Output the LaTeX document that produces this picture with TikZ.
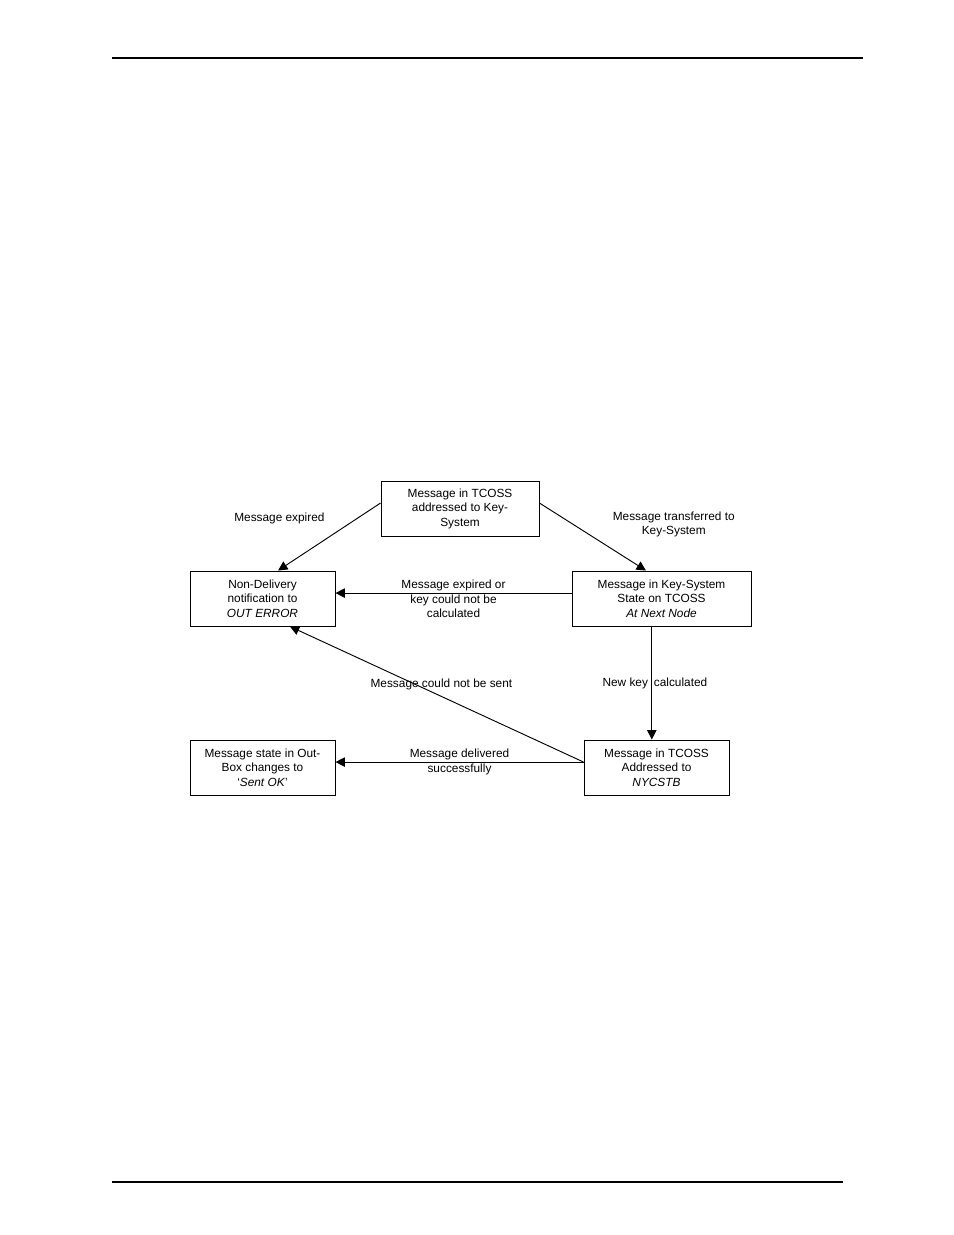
\documentclass[tikz,border=0pt]{standalone}
\usepackage{fontspec}
\setmainfont{Liberation Sans}
\usetikzlibrary{arrows.meta,positioning,calc}
\tikzset{
  state/.style={
    rectangle, draw=black, line width=0.6pt, fill=white,
    minimum height=35.3pt, inner sep=2pt,
    align=center, font=\fontsize{7.6}{9.3}\selectfont
  },
  lbl/.style={align=center, inner sep=0pt, font=\fontsize{7.6}{9.3}\selectfont},
  flow/.style={-{Triangle[length=6pt,width=6pt]}, line width=0.6pt, draw=black},
  rule/.style={line width=1pt, draw=black}
}
\begin{document}
\begin{tikzpicture}[x=0.6415pt,y=-0.6415pt]
  \useasboundingbox (0,0) rectangle (954,1235);

  % page rules
  \draw[rule] (112,58) -- (863,58);
  \draw[rule] (112,1182) -- (843,1182);

  % states
  \node[state, minimum width=101.4pt] (intcoss) at (460,508.5) {%
    Message in TCOSS\\addressed to Key-\\System};
  \node[state, minimum width=93pt] (nondel) at (262.5,598.5) {%
    Non-Delivery\\notification to\\\textit{OUT ERROR}};
  \node[state, minimum width=114.8pt] (keysys) at (661.5,598.5) {%
    Message in Key-System\\State on TCOSS\\\textit{At Next Node}};
  \node[state, minimum width=93pt] (nycstb) at (656.5,767.5) {%
    Message in TCOSS\\Addressed to\\\textit{NYCSTB}};
  \node[state, minimum width=93pt] (sentok) at (262.5,767.5) {%
    Message state in Out-\\Box changes to\\`\textit{Sent OK}'};

  % transitions
  \draw[flow] ([yshift=3.5pt]intcoss.west) -- ([xshift=10pt]nondel.north)
    node[lbl, midway, xshift=-32pt, yshift=12pt] {Message expired};
  \draw[flow] ([yshift=3.5pt]intcoss.east) -- ([xshift=-10pt]keysys.north)
    node[lbl, midway, xshift=52pt, yshift=8pt] {Message transferred to\\Key-System};
  \draw[flow] ([yshift=3.5pt]keysys.west) -- ([yshift=3.5pt]nondel.east)
    node[lbl, midway, yshift=-3.8pt] {Message expired or\\key could not be\\calculated};
  \draw[flow] ([xshift=-3pt]nycstb.north |- keysys.south) -- ([xshift=-3pt]nycstb.north)
    node[lbl, midway, xshift=2pt] {New key\enspace calculated};
  \draw[flow] ([yshift=3.5pt]nycstb.west) -- ([xshift=17.6pt]nondel.south)
    node[lbl, midway, xshift=3pt, yshift=6pt] {Message could not be sent};
  \draw[flow] ([yshift=3.5pt]nycstb.west) -- ([yshift=3.5pt]sentok.east)
    node[lbl, midway] {Message delivered\\successfully};

\end{tikzpicture}
\end{document}
